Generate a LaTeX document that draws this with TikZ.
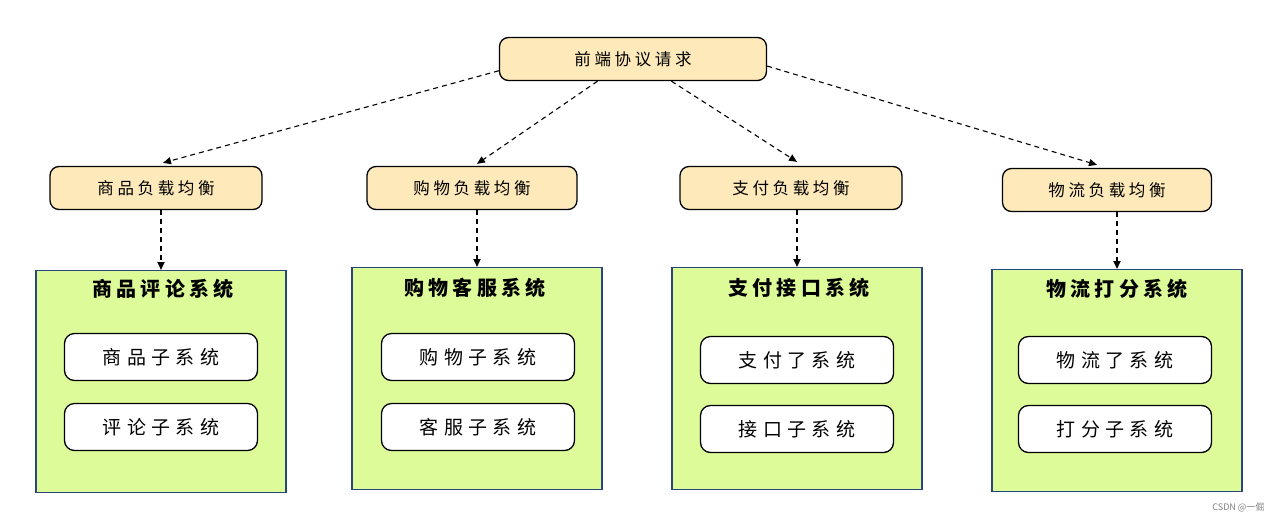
\documentclass[tikz,border=0pt]{standalone}
\usepackage{fontspec}
\newfontfamily\cjk{Noto Sans CJK SC}
\newfontfamily\cjklb{Noto Sans CJK SC}[LetterSpace=22]
\newfontfamily\cjkwide{Noto Sans CJK SC}[LetterSpace=28]
\usetikzlibrary{arrows.meta,positioning,calc}
\definecolor{lbfill}{RGB}{253,233,186}
\definecolor{sysfill}{RGB}{221,252,153}
\definecolor{sysline}{RGB}{40,70,125}

\begin{document}
\begin{tikzpicture}[x=1pt,y=-1pt,
    lbnode/.style={draw=black, line width=1.3pt, fill=lbfill, rounded corners=9pt,
      minimum height=43pt, font=\cjklb\fontsize{16.5}{18}\selectfont},
    sysbox/.style={draw=sysline, line width=1.2pt, fill=sysfill,
      minimum width=250pt, minimum height=222pt, anchor=north},
    systitle/.style={font=\cjklb\bfseries\fontsize{20}{22}\selectfont},
    subnode/.style={draw=black, line width=1.3pt, fill=white, rounded corners=10pt,
      minimum width=193pt, minimum height=47pt, font=\cjkwide\fontsize{19}{21}\selectfont},
    flow/.style={dash pattern=on 5pt off 4pt, line width=1.1pt,
      -{Triangle[length=8pt,width=7pt]}},
    down/.style={flow, line width=1.8pt}]
    \useasboundingbox (0,0) rectangle (1279,523);
    % request and load balancers
    \node[lbnode, minimum width=267pt] (req) at (633,59) {前端协议请求};
    \node[lbnode, minimum width=212pt] (lbgoods) at (156,188) {商品负载均衡};
    \node[lbnode, minimum width=210pt] (lbshop) at (472,188) {购物负载均衡};
    \node[lbnode, minimum width=222pt] (lbpay) at (791,188) {支付负载均衡};
    \node[lbnode, minimum width=209pt] (lbship) at (1107,190) {物流负载均衡};
    % systems
    \node[sysbox] (sysgoods) at (161,270) {};
    \node[sysbox] (sysshop) at (477,267) {};
    \node[sysbox] (syspay) at (797,267) {};
    \node[sysbox] (sysship) at (1117,269) {};
    \node[systitle] (tgoods) at (163,289) {商品评论系统};
    \node[systitle] (tshop) at (475,288) {购物客服系统};
    \node[systitle] (tpay) at (799,288) {支付接口系统};
    \node[systitle] (tship) at (1117,289) {物流打分系统};
    % sub systems
    \node[subnode] (goods) at (161,357) {商品子系统};
    \node[subnode] (review) at (161,427) {评论子系统};
    \node[subnode] (shop) at (478,357) {购物子系统};
    \node[subnode] (service) at (478,427) {客服子系统};
    \node[subnode] (pay) at (797,360) {支付了系统};
    \node[subnode] (api) at (797,429) {接口子系统};
    \node[subnode] (ship) at (1115,360) {物流了系统};
    \node[subnode] (score) at (1115,429) {打分子系统};
    % arrows
    \draw[flow] (req.185) -- ($(lbgoods.north)+(7,-3)$);
    \draw[flow] (req.212) -- ($(lbshop.north)+(5,-2)$);
    \draw[flow] (req.330) -- ($(lbpay.north)+(6,-4)$);
    \draw[flow] (req.357) -- ($(lbship.north)+(-10,-3)$);
    \draw[down] (sysgoods.north |- lbgoods.south) -- (sysgoods.north);
    \draw[down] (sysshop.north |- lbshop.south) -- (sysshop.north);
    \draw[down] (syspay.north |- lbpay.south) -- (syspay.north);
    \draw[down] (sysship.north |- lbship.south) -- (sysship.north);
    \node[font=\cjk\fontsize{9}{10}\selectfont, text=gray, anchor=east] (mark) at (1268,508) {CSDN @一倔};
\end{tikzpicture}
\end{document}
